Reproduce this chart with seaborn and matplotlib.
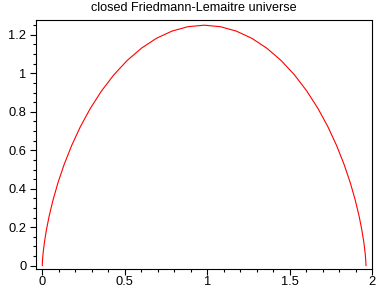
import matplotlib
matplotlib.use("Agg")
import matplotlib.pyplot as plt
import seaborn as sns
import pandas as pd
from matplotlib.ticker import MultipleLocator, FuncFormatter

# values (time t, scale factor a)
t_vals = [0.0, 0.0002, 0.0016, 0.0054, 0.0127, 0.0245, 0.0417, 0.0652, 0.0955, 0.1331,
          0.1784, 0.2313, 0.2918, 0.3597, 0.4344, 0.5153, 0.6017, 0.6926, 0.7870, 0.8838,
          0.9818, 1.0797, 1.1765, 1.2709, 1.3618, 1.4482, 1.5291, 1.6038, 1.6717, 1.7322,
          1.7851, 1.8304, 1.8680, 1.8983, 1.9218, 1.9390, 1.9508, 1.9581, 1.9619, 1.9633,
          1.9635]
a_vals = [0.0, 0.0077, 0.0306, 0.0681, 0.1194, 0.1831, 0.2576, 0.3413, 0.4319, 0.5272,
          0.6250, 0.7228, 0.8181, 0.9087, 0.9924, 1.0669, 1.1306, 1.1819, 1.2194, 1.2423,
          1.2500, 1.2423, 1.2194, 1.1819, 1.1306, 1.0669, 0.9924, 0.9087, 0.8181, 0.7228,
          0.6250, 0.5272, 0.4319, 0.3413, 0.2576, 0.1831, 0.1194, 0.0681, 0.0306, 0.0077,
          0.0]
title = "closed Friedmann-Lemaitre universe"

df = pd.DataFrame({"t": t_vals, "a": a_vals})

sns.set_style("ticks")
plt.rcParams['font.family'] = ['Liberation Sans', 'DejaVu Sans']

fig = plt.figure(figsize=(3.88, 2.88), dpi=100)
ax = fig.add_axes([36/388, 1-269/288, (372-36)/388, (269-20)/288])

sns.lineplot(data=df, x="t", y="a", sort=False, estimator=None, color="#ff0000",
             linewidth=0.8, ax=ax)

ax.set_xlim(-0.038, 2.0)
ax.set_ylim(-0.017, 1.277)
ax.set_xlabel("")
ax.set_ylabel("")

fmt = FuncFormatter(lambda v, p: ("%g" % round(v, 3)))
ax.xaxis.set_major_locator(MultipleLocator(0.5))
ax.xaxis.set_minor_locator(MultipleLocator(0.1))
ax.yaxis.set_major_locator(MultipleLocator(0.2))
ax.yaxis.set_minor_locator(MultipleLocator(0.05))
ax.xaxis.set_major_formatter(fmt)
ax.yaxis.set_major_formatter(fmt)

for s in ax.spines.values():
    s.set_visible(True)
    s.set_color("black")
    s.set_linewidth(0.8)

ax.tick_params(axis="both", which="major", direction="out", length=4, width=0.8,
               color="black", labelsize=9.3, labelcolor="black")
ax.tick_params(axis="both", which="minor", direction="out", length=2.2, width=0.8,
               color="black")
ax.tick_params(axis="x", which="major", pad=1)
ax.tick_params(axis="y", which="major", pad=3)

fig.text(194/388, 1-11/288, title, ha="center", va="baseline", fontsize=9.1,
         color="black")

fig.savefig("out.png", dpi=100)
